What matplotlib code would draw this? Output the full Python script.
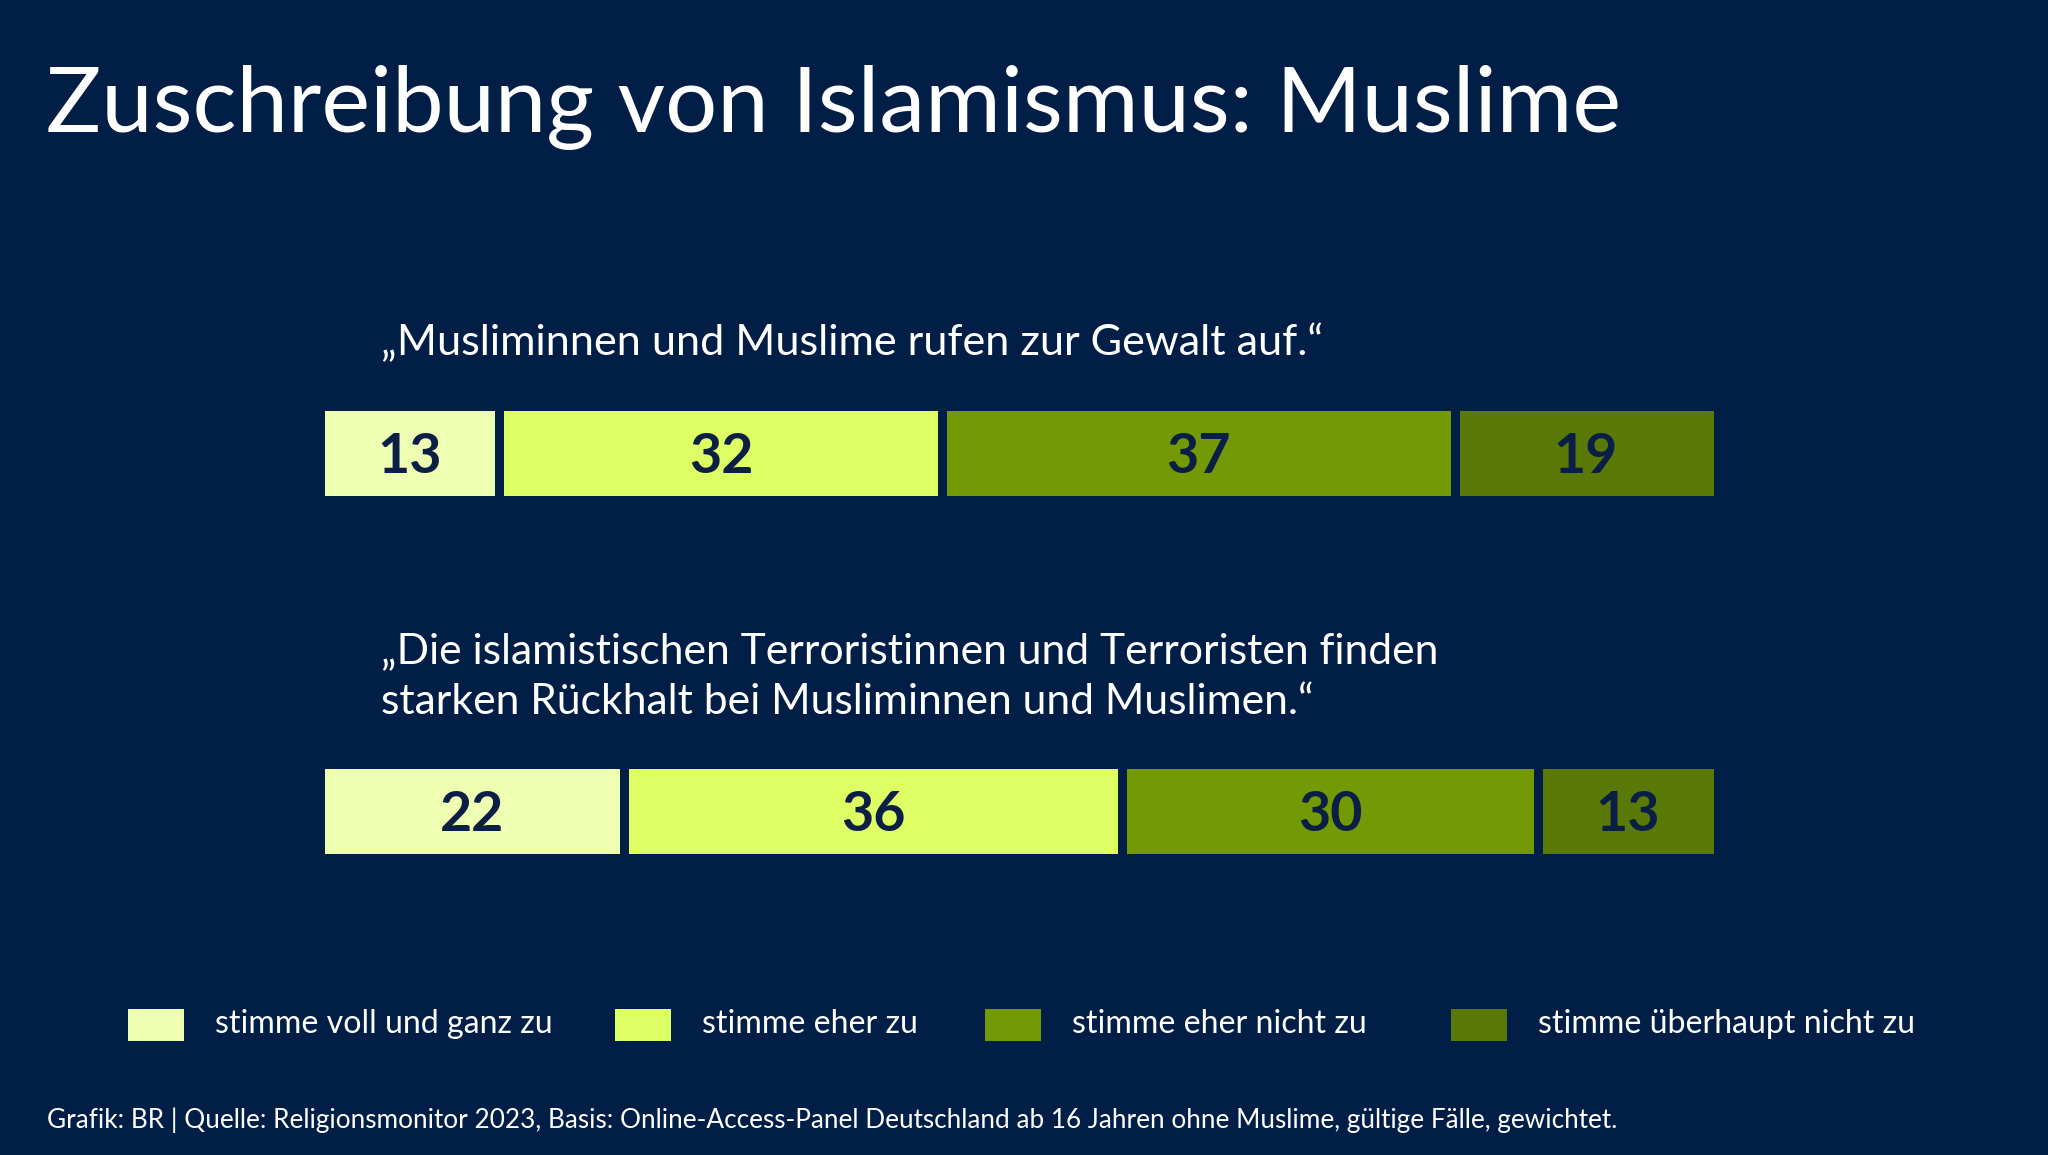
import numpy as np
import matplotlib
matplotlib.use("Agg")
import matplotlib.pyplot as plt
from matplotlib.patches import Rectangle

# ---------------- data ----------------
title = "Zuschreibung von Islamismus: Muslime"
questions = [
    "\u201eMusliminnen und Muslime rufen zur Gewalt auf.\u201c",
    "\u201eDie islamistischen Terroristinnen und Terroristen finden\nstarken R\u00fcckhalt bei Musliminnen und Muslimen.\u201c",
]
series = ["stimme voll und ganz zu", "stimme eher zu", "stimme eher nicht zu", "stimme \u00fcberhaupt nicht zu"]
row1_values = [13, 32, 37, 19]
row2_values = [22, 36, 30, 13]
footer = ("Grafik: BR | Quelle: Religionsmonitor 2023, Basis: Online-Access-Panel Deutschland ab 16 Jahren "
          "ohne Muslime, g\u00fcltige F\u00e4lle, gewichtet.")

# ---------------- style ----------------
BG = "#011E47"
TXT = "#FFFFFF"
NUM = "#0B1E45"
colors = ["#EEFFB3", "#DDFF63", "#739A05", "#5A7907"]
FONT = ["Lato", "DejaVu Sans"]
plt.rcParams["font.family"] = FONT

W, H = 2048, 1155
fig = plt.figure(figsize=(W / 100, H / 100), dpi=100, facecolor=BG)
renderer = fig.canvas.get_renderer()


def fx(x):
    return x / W


def fy(y):
    return 1 - y / H


def fit_width(t, target):
    w = t.get_window_extent(renderer).width
    t.set_fontsize(t.get_fontsize() * target / w)


# title
t = fig.text(fx(46), fy(132), title, color=TXT, fontsize=60, ha="left", va="baseline")
fit_width(t, 1577)

# question texts
q1 = fig.text(fx(381), fy(355), questions[0], color=TXT, fontsize=30, ha="left", va="baseline")
fit_width(q1, 941)
l1, l2 = questions[1].split("\n")
q2a = fig.text(fx(381), fy(663), l1, color=TXT, fontsize=30, ha="left", va="baseline")
fit_width(q2a, 1060)
q2b = fig.text(fx(381), fy(714), l2, color=TXT, fontsize=q2a.get_fontsize(), ha="left", va="baseline")

# bars
values = np.array([row1_values, row2_values])
rows = np.arange(len(values))
total = values.sum(axis=1).max()
gap_px = 9
ax = fig.add_axes([fx(324 - gap_px / 2), fy(990), (1713 - 324 + gap_px) / W, (990 - 274) / H])
ax.set_facecolor(BG)
ax.set_xlim(0, total)
ax.set_ylim(1.5, -0.5)
ax.axis("off")
lefts = np.zeros(len(values))
for j in range(values.shape[1]):
    ax.barh(rows, values[:, j], left=lefts, height=0.26, color=colors[j],
            edgecolor=BG, linewidth=gap_px * 0.72)
    for r in rows:
        ax.annotate(str(values[r, j]), (lefts[r] + values[r, j] / 2, r),
                    xytext=(0, -14.4), textcoords="offset points",
                    ha="center", va="baseline", color=NUM, fontsize=40, fontweight="bold")
    lefts = lefts + values[:, j]

# legend
sq_x = [128, 615, 985, 1451]
leg_size = None
for i, name in enumerate(series):
    fig.add_artist(Rectangle((fx(sq_x[i]), fy(1041)), 56 / W, 32 / H, transform=fig.transFigure,
                             facecolor=colors[i], edgecolor="none"))
    lt = fig.text(fx(sq_x[i] + 87), fy(1033), name, color=TXT, fontsize=22, ha="left", va="baseline")
    if leg_size is None:
        fit_width(lt, 337)
        leg_size = lt.get_fontsize()
    else:
        lt.set_fontsize(leg_size)

# footer
ft = fig.text(fx(47), fy(1128), footer, color=TXT, fontsize=18, ha="left", va="baseline")
fit_width(ft, 1563)

fig.savefig("out.png", dpi=100, facecolor=BG)
